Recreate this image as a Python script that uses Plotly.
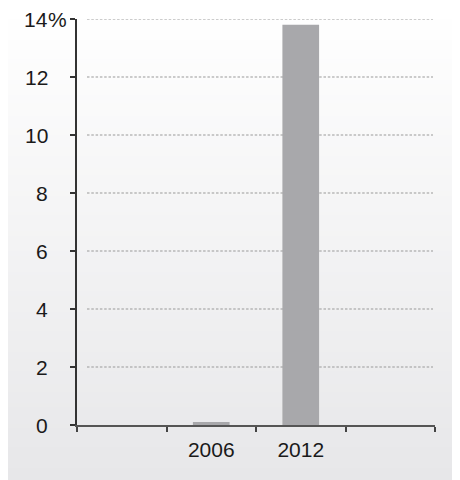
import plotly.graph_objects as go

# Data
slots = [" ", "2006", "2012", "  "]
years = ["2006", "2012"]
values = [0.1, 13.8]
y_ticks = [0, 2, 4, 6, 8, 10, 12, 14]

# page body has an 8px margin, so figure is offset by 8px
W, H = 452, 472
L, R, T, B = 69, 25, 11, 55
pw, ph = W - L - R, H - T - B

def px_x(p):
    return (p - 8 - L) / pw

FONT = "Liberation Sans, Arial, sans-serif"
TXT = "#1a1a1a"
FS = 21

fig = go.Figure()
fig.add_trace(go.Bar(
    x=years, y=values, width=0.41,
    marker=dict(color="#a8a8ab", line=dict(width=0)),
    hoverinfo="skip",
))

shapes = []
# background gradient (white top -> light gray bottom)
n = 118
top_c = (255, 255, 255)
bot_c = (231, 231, 233)
for i in range(n):
    t = i / (n - 1)
    c = tuple(round(top_c[k] + (bot_c[k] - top_c[k]) * t) for k in range(3))
    y0 = 1 - i / n
    y1 = 1 - (i + 1) / n - 0.002
    shapes.append(dict(
        type="rect", xref="paper", yref="paper", layer="below",
        x0=-L / pw - 0.01, x1=(W - L) / pw + 0.01,
        y0=(-B + y1 * H) / ph, y1=(-B + y0 * H) / ph + 0.001,
        fillcolor="rgb(%d,%d,%d)" % c, line=dict(width=0),
    ))
# dotted gridlines
for v in y_ticks[1:]:
    shapes.append(dict(
        type="line", xref="paper", yref="y", layer="below",
        x0=px_x(87), x1=px_x(433), y0=v, y1=v,
        line=dict(color="#999999", width=1, dash="2.5px,1.8px"),
    ))

annotations = []
for v in y_ticks:
    annotations.append(dict(
        xref="paper", yref="y", x=px_x(50), y=v, text=str(v),
        xanchor="right", yanchor="middle", showarrow=False,
        font=dict(family=FONT, size=FS, color=TXT),
    ))
annotations.append(dict(
    xref="paper", yref="y", x=px_x(50), y=y_ticks[-1], text="%",
    xanchor="left", yanchor="middle", showarrow=False, xshift=-4,
    font=dict(family=FONT, size=FS, color=TXT),
))

fig.update_layout(
    width=W, height=H,
    margin=dict(l=L, r=R, t=T, b=B),
    paper_bgcolor="white",
    plot_bgcolor="rgba(0,0,0,0)",
    showlegend=False,
    shapes=shapes,
    annotations=annotations,
    xaxis=dict(
        type="category", categoryorder="array", categoryarray=slots,
        range=[-0.5, 3.5], tickson="boundaries",
        ticks="outside", ticklen=5, tickwidth=1.5, tickcolor="#444",
        showline=True, linecolor="#555", linewidth=1.5,
        showgrid=False, zeroline=False,
        tickfont=dict(family=FONT, size=FS, color=TXT),
        ticklabelstandoff=5,
        fixedrange=True,
    ),
    yaxis=dict(
        range=[0, 14], tickvals=y_ticks, showticklabels=False,
        ticks="outside", ticklen=5, tickwidth=1.5, tickcolor="#333",
        showline=True, linecolor="#333", linewidth=1.5,
        showgrid=False, zeroline=False, fixedrange=True,
    ),
)

fig.write_html("out.html")
